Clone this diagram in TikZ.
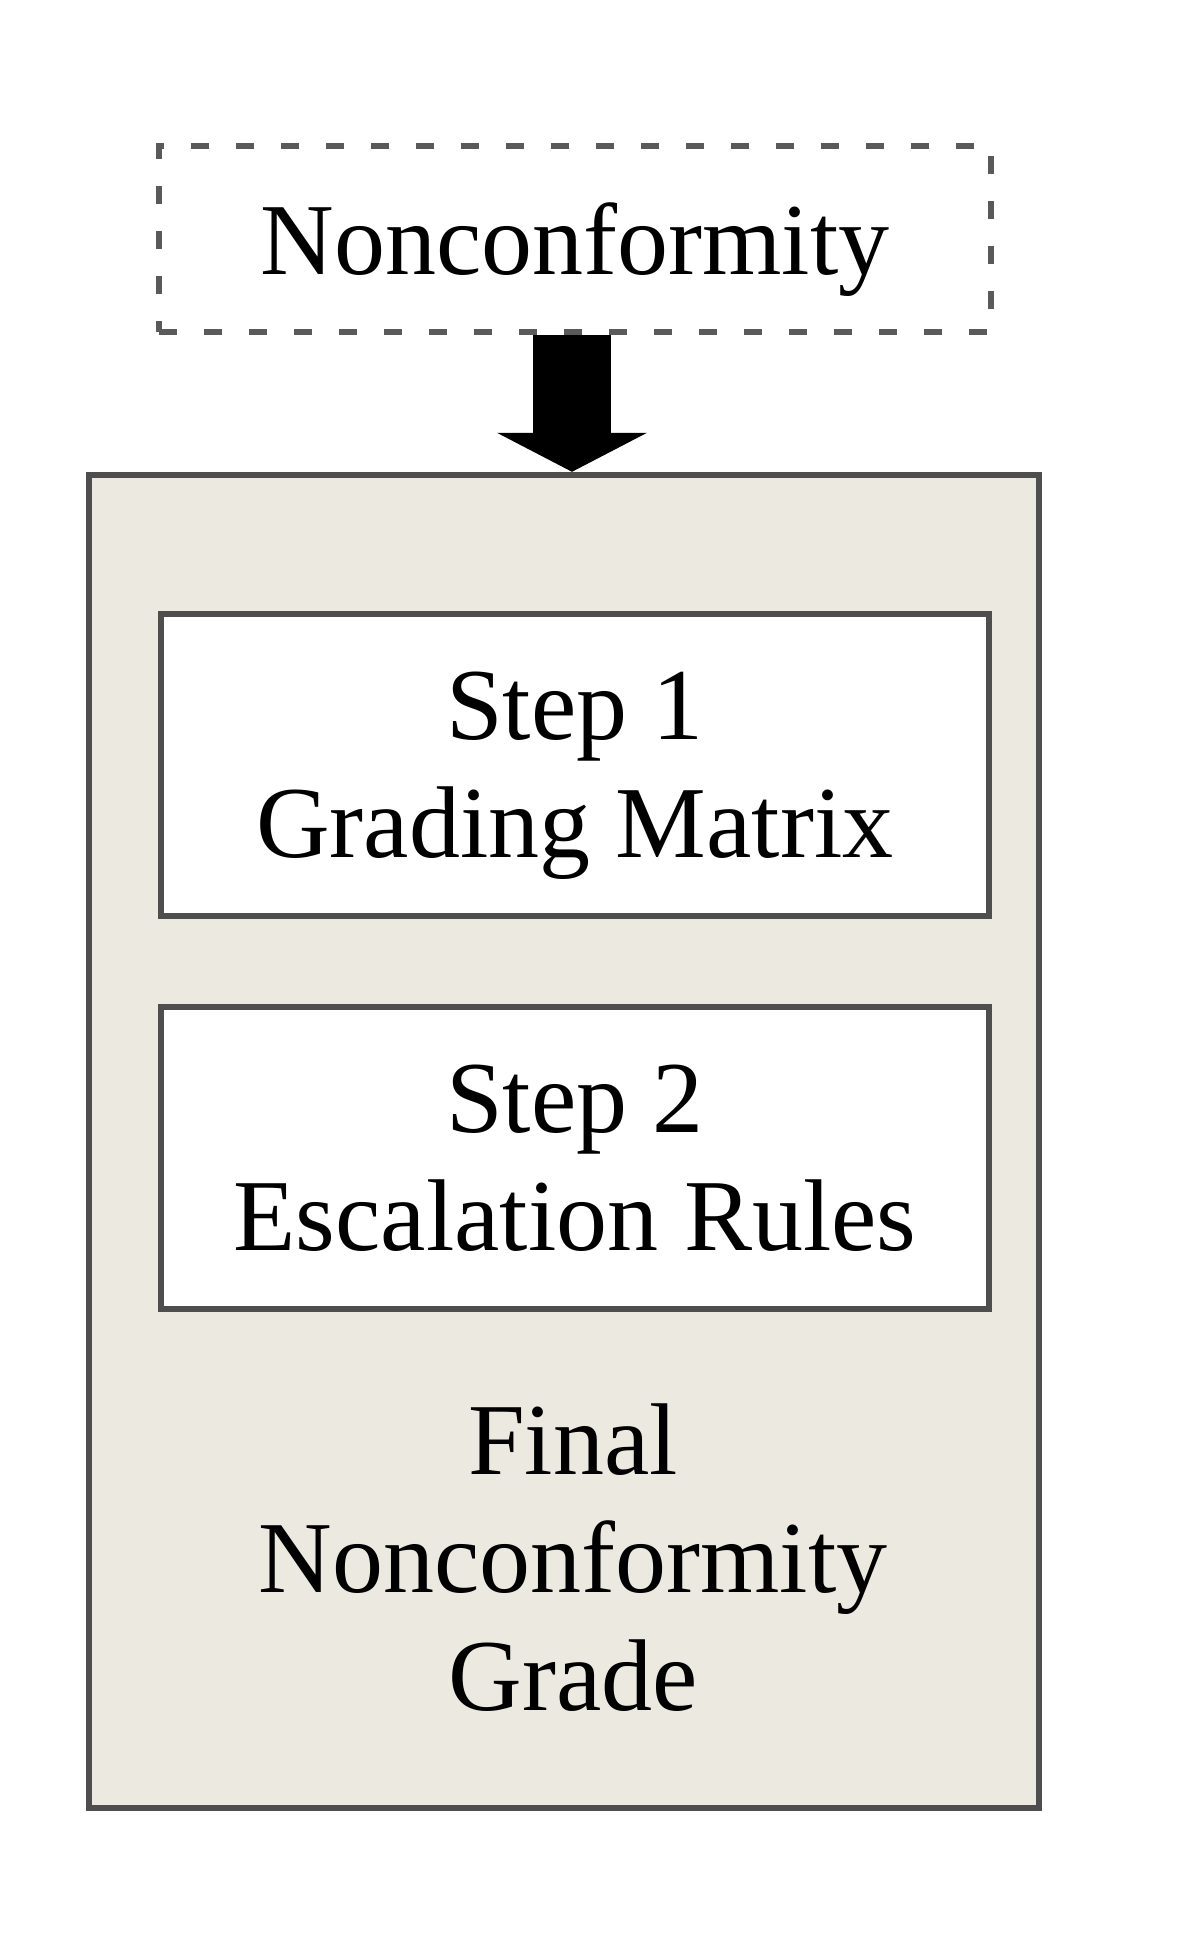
\documentclass[tikz,border=0pt]{standalone}
\usepackage{fontspec}
\setmainfont{Liberation Serif}
\usetikzlibrary{arrows.meta}
\definecolor{beige}{RGB}{236,234,224}
\definecolor{edgegray}{RGB}{78,78,78}
\definecolor{dashgray}{RGB}{90,90,90}
\begin{document}
\begin{tikzpicture}[x=0.5pt,y=-0.5pt,
  txt/.style={font=\fontsize{51}{59}\selectfont, align=center, text depth=0pt, inner sep=0pt},
  stepbox/.style={txt, draw=edgegray, line width=3pt, fill=white,
    minimum width=414pt, minimum height=151pt},
  outerbox/.style={draw=edgegray, line width=3.2pt, fill=beige,
    minimum width=475pt, minimum height=666.5pt, inner sep=0pt},
  inputbox/.style={txt, draw=dashgray, line width=2.6pt, dash pattern=on 9pt off 13.5pt,
    minimum width=416pt, minimum height=93pt},
  bigarrow/.style={line width=39pt,
    -{Triangle[width=75pt, length=19.5pt, line width=0pt]}},
]
\useasboundingbox (0,0) rectangle (1200,1934);
\fill[white] (0,0) rectangle (1200,1934);
\node[outerbox] (outer) at (564,1141.5) {};
\node[inputbox] (input) at (575,239) {Nonconformity};
\node[stepbox] (step1) at (575,765) {Step 1\\Grading Matrix};
\node[stepbox] (step2) at (575,1158) {Step 2\\Escalation Rules};
\node[txt] (final) at (573,1557) {Final\\Nonconformity\\Grade};
\coordinate (arrowtop) at ([xshift=-1.5pt]input.south);
\draw[bigarrow] (arrowtop) -- (arrowtop |- outer.north);
\end{tikzpicture}
\end{document}
